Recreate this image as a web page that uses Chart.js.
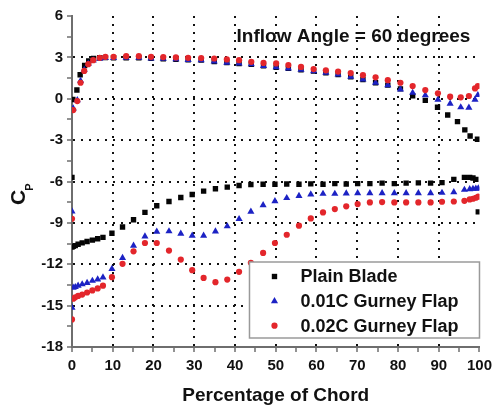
<!DOCTYPE html>
<html>
<head>
<meta charset="utf-8">
<script src="https://cdn.jsdelivr.net/npm/chart.js@4.4.1/dist/chart.umd.min.js"></script>
<style>
  html, body { margin: 0; padding: 0; background: #fff; }
  #chart { display: block; }
</style>
</head>
<body>
<canvas id="chart" width="497" height="410"></canvas>
<script>
// pressure side (upper branch, Cp around +3)
const upperX = [0.3, 1.3, 2.1, 3.0, 4.0, 5.2, 6.8, 8.2, 10.2, 13.3, 16.4, 19.4, 22.4, 25.5, 28.5, 31.7, 34.9, 38.0, 41.0, 44.0,
    47.0, 50.1, 53.1, 56.2, 59.3, 62.3, 65.3, 68.4, 71.4, 74.5, 77.5, 80.6, 83.6, 86.7, 89.8, 92.8, 95.4, 97.4, 98.9, 99.6];
const blueUpperY = [-0.7, -0.1, 1.3, 2.1, 2.55, 2.78, 2.9, 2.95, 2.95, 2.97, 2.97, 2.93, 2.9, 2.86, 2.82, 2.8, 2.7, 2.62, 2.56, 2.5,
    2.38, 2.28, 2.2, 2.1, 2.0, 1.88, 1.76, 1.59, 1.4, 1.16, 0.99, 0.68, 0.43, 0.25, -0.07, -0.35, -0.62, -0.65, -0.07, 0.27];
const redUpperY = [-0.82, -0.17, 1.16, 2.02, 2.51, 2.8, 2.97, 3.04, 3.04, 3.09, 3.09, 3.04, 3.02, 3.0, 2.97, 2.95, 2.92, 2.85, 2.8, 2.68,
    2.6, 2.56, 2.44, 2.31, 2.15, 2.06, 1.97, 1.86, 1.71, 1.55, 1.35, 1.16, 0.92, 0.63, 0.39, 0.15, 0.1, 0.2, 0.75, 0.92];
const blackUpperX = [0.2, 1.2, 2.0, 3.1, 4.1, 5.3, 6.8, 8.2, 10.2, 13.3, 16.4, 19.4, 22.4, 25.5, 28.5, 31.7, 34.9, 38.0, 41.0, 44.0,
    47.0, 50.1, 53.1, 56.2, 59.3, 62.3, 65.3, 68.4, 71.4, 74.5, 77.5, 80.6, 83.6, 86.7, 89.7, 92.2, 94.6, 96.4, 97.7, 99.5];
const blackUpperY = [-0.05, 0.63, 1.74, 2.41, 2.75, 2.92, 2.97, 2.98, 2.97, 2.97, 2.97, 2.93, 2.9, 2.86, 2.82, 2.8, 2.7, 2.62, 2.56, 2.5,
    2.38, 2.28, 2.2, 2.1, 2.0, 1.88, 1.76, 1.59, 1.4, 1.16, 0.99, 0.72, 0.22, -0.12, -0.62, -1.18, -1.66, -2.26, -2.7, -2.94];

// suction side (lower branch)
const lowerX = [0, 0, 0.3, 0.8, 1.5, 2.5, 3.7, 5.0, 6.3, 7.6, 9.8, 12.4, 15.1, 17.9, 20.8, 23.8, 26.7, 29.5, 32.3, 35.2, 38.1,
    41.0, 43.9, 46.9, 49.8, 52.7, 55.7, 58.6, 61.6, 64.5, 67.3, 70.1, 73.1, 76.1, 79.1, 82.0, 85.0, 88.0, 90.8, 93.7, 96.3,
    97.6, 98.4, 99.1, 99.7];
const blackLowerY = [-5.7, -10.75, -10.7, -10.65, -10.55, -10.45, -10.35, -10.25, -10.15, -10.05, -9.75, -9.3, -8.77, -8.24, -7.76,
    -7.45, -7.16, -6.94, -6.7, -6.53, -6.41, -6.29, -6.22, -6.2, -6.2, -6.18, -6.2, -6.17, -6.2, -6.15, -6.18, -6.15, -6.15, -6.12,
    -6.15, -6.12, -6.1, -6.12, -6.08, -5.85, -5.7, -5.7, -5.75, -5.85, -8.2];
const blueLowerY = [-8.17, -15.15, -13.7, -13.65, -13.55, -13.45, -13.35, -13.2, -13.1, -12.95, -12.34, -11.54, -10.65, -9.98, -9.64,
    -9.61, -9.78, -9.93, -9.93, -9.62, -9.25, -8.72, -8.19, -7.71, -7.42, -7.2, -7.04, -6.94, -6.89, -6.89, -6.86, -6.84, -6.84,
    -6.84, -6.84, -6.84, -6.84, -6.84, -6.82, -6.77, -6.6, -6.55, -6.53, -6.52, -6.5];
const redLowerY = [-8.7, -16.0, -14.5, -14.4, -14.3, -14.2, -14.05, -13.9, -13.75, -13.55, -12.94, -11.97, -11.06, -10.46, -10.46,
    -11.01, -11.66, -12.43, -12.99, -13.3, -13.11, -12.55, -11.9, -11.18, -10.46, -9.86, -9.2, -8.68, -8.24, -8.0, -7.8, -7.64,
    -7.52, -7.49, -7.52, -7.52, -7.52, -7.52, -7.47, -7.45, -7.4, -7.3, -7.25, -7.18, -7.1];

const seriesNames = ['Plain Blade', '0.01C Gurney Flap', '0.02C Gurney Flap'];
const titleText = 'Inflow Angle = 60 degrees';
const xTitle = 'Percentage of Chord';

function toPoints(xs, ys) {
    return xs.map((x, i) => ({ x: x, y: ys[i] }));
}

const font = 'Liberation Sans, Arial, sans-serif';
const axisGray = '#6e6e6e';

// legend box + in-plot title + C_P label
const decor = {
    id: 'decor',
    afterDatasetsDraw(chart) {
        const ctx = chart.ctx;
        const area = chart.chartArea;
        const w = 230, h = 76;
        const left = area.right - w;
        const top = area.bottom - 9 - h;
        ctx.save();
        ctx.fillStyle = '#fff';
        ctx.fillRect(left, top, w, h);
        ctx.strokeStyle = '#9a9a9a';
        ctx.lineWidth = 1.5;
        ctx.strokeRect(left, top, w, h);
        chart.data.datasets.forEach((ds, i) => {
            const y = top + 14.5 + i * 24.6;
            ctx.fillStyle = ds.backgroundColor;
            Chart.helpers.drawPoint(ctx, {
                pointStyle: ds.pointStyle,
                radius: ds.pointRadius,
                rotation: 0,
                borderWidth: 0
            }, left + 25, y);
            ctx.fillStyle = '#111';
            ctx.font = 'bold 18px ' + font;
            ctx.textAlign = 'left';
            ctx.textBaseline = 'middle';
            ctx.fillText(ds.label, left + 51, y + 1);
        });
        ctx.restore();
    },
    afterDraw(chart) {
        const ctx = chart.ctx;
        const area = chart.chartArea;
        ctx.save();
        ctx.fillStyle = '#111';
        ctx.font = 'bold 19px ' + font;
        ctx.textAlign = 'center';
        ctx.textBaseline = 'alphabetic';
        ctx.fillText(titleText, area.right - 126, area.top + 26);

        ctx.translate(25, 205);
        ctx.rotate(-Math.PI / 2);
        ctx.textAlign = 'left';
        ctx.font = 'bold 21px ' + font;
        ctx.fillText('C', 0, 0);
        const cw = ctx.measureText('C').width;
        ctx.font = 'bold 11px ' + font;
        ctx.fillText('P', cw - 1, 8);
        ctx.restore();
    }
};

new Chart(document.getElementById('chart'), {
    type: 'scatter',
    data: {
        datasets: [
            {
                label: seriesNames[0],
                data: toPoints(blackUpperX, blackUpperY).concat(toPoints(lowerX, blackLowerY)),
                pointStyle: 'rect',
                pointRadius: 3.8,
                backgroundColor: '#050505',
                borderWidth: 0,
                order: 3
            },
            {
                label: seriesNames[1],
                data: toPoints(upperX, blueUpperY).concat(toPoints(lowerX, blueLowerY)),
                pointStyle: 'triangle',
                pointRadius: 4.1,
                backgroundColor: '#1c22c4',
                borderWidth: 0,
                order: 2
            },
            {
                label: seriesNames[2],
                data: toPoints(upperX, redUpperY).concat(toPoints(lowerX, redLowerY)),
                pointStyle: 'circle',
                pointRadius: 3.1,
                backgroundColor: '#e3262b',
                borderWidth: 0,
                order: 1
            }
        ]
    },
    options: {
        responsive: false,
        animation: false,
        devicePixelRatio: 1,
        layout: { padding: { top: 16, right: 14, left: 0, bottom: 0 } },
        plugins: {
            legend: { display: false },
            tooltip: { enabled: false }
        },
        scales: {
            x: {
                type: 'linear',
                min: 0,
                max: 100,
                afterFit: scale => { scale.height = 63; },
                ticks: {
                    stepSize: 5,
                    autoSkip: false,
                    maxRotation: 0,
                    padding: 5,
                    color: '#111',
                    font: { family: font, size: 15, weight: 'bold' },
                    callback: v => (v % 10 === 0 ? v : '')
                },
                grid: {
                    color: c => (c.tick && c.tick.value % 10 === 0 && c.tick.value > 0 && c.tick.value < 100) ? '#111' : 'rgba(0,0,0,0)',
                    lineWidth: 2,
                    tickColor: axisGray,
                    tickLength: 5,
                    tickWidth: 1.5
                },
                border: { color: axisGray, width: 2, dash: [2, 6] },
                title: {
                    display: true,
                    text: xTitle,
                    color: '#111',
                    font: { family: font, size: 19, weight: 'bold' },
                    padding: { top: 0, bottom: 3 }
                }
            },
            y: {
                type: 'linear',
                min: -18,
                max: 6,
                afterFit: scale => { scale.width = 72; },
                ticks: {
                    stepSize: 1.5,
                    autoSkip: false,
                    padding: 4,
                    color: '#111',
                    font: { family: font, size: 15, weight: 'bold' },
                    callback: v => (v % 3 === 0 ? v : '')
                },
                grid: {
                    color: c => (c.tick && c.tick.value % 3 === 0 && c.tick.value > -18 && c.tick.value < 6) ? '#111' : 'rgba(0,0,0,0)',
                    lineWidth: 2,
                    tickColor: axisGray,
                    tickLength: 5,
                    tickWidth: 1.5
                },
                border: { color: axisGray, width: 2, dash: [2, 6] }
            }
        }
    },
    plugins: [decor]
});
</script>
</body>
</html>
